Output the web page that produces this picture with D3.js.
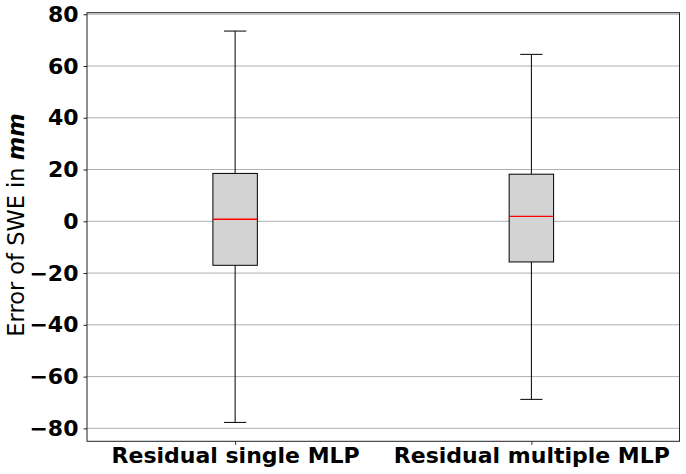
<!DOCTYPE html>
<html><head><meta charset="utf-8">
<script src="https://cdn.jsdelivr.net/npm/d3@7"></script>
<style>body{margin:0;background:#fff}svg{display:block}</style>
</head><body>
<svg id="c" width="686" height="474"></svg>
<script>
const categories = ["Residual single MLP", "Residual multiple MLP"];
const whiskerLow  = [-77.7, -68.8];
const q1          = [-17.0, -15.7];
const median      = [0.8, 1.9];
const q3          = [18.5, 18.2];
const whiskerHigh = [73.5, 64.5];
const yTicks = [-80, -60, -40, -20, 0, 20, 40, 60, 80];

const svg = d3.select("#c");
const L = 87, R = 679.5, T = 12.7, B = 441.3;
const y = d3.scaleLinear().domain([-85.0, 80.6]).range([B, T]);
const x = d3.scaleLinear().domain([0.5, 2.5]).range([L, R]);
const boxW = 0.15, capW = 0.075;

// grid
svg.append("g").selectAll("line").data(yTicks).join("line")
  .attr("x1", L).attr("x2", R)
  .attr("y1", d => y(d)).attr("y2", d => y(d))
  .attr("stroke", "#b0b0b0").attr("stroke-width", 1);

const data = categories.map((c, i) => ({c, i, lo: whiskerLow[i], q1: q1[i], med: median[i], q3: q3[i], hi: whiskerHigh[i]}));
const g = svg.append("g");
data.forEach(d => {
  const cx = x(d.i + 1);
  g.append("line").attr("x1", cx).attr("x2", cx).attr("y1", y(d.q3)).attr("y2", y(d.hi)).attr("stroke", "#000").attr("stroke-width", 1);
  g.append("line").attr("x1", cx).attr("x2", cx).attr("y1", y(d.q1)).attr("y2", y(d.lo)).attr("stroke", "#000").attr("stroke-width", 1);
  [d.hi, d.lo].forEach(v => {
    g.append("line").attr("x1", x(d.i + 1 - capW / 2)).attr("x2", x(d.i + 1 + capW / 2))
      .attr("y1", y(v)).attr("y2", y(v)).attr("stroke", "#000").attr("stroke-width", 1);
  });
  g.append("rect").attr("x", x(d.i + 1 - boxW / 2)).attr("width", x(d.i + 1 + boxW / 2) - x(d.i + 1 - boxW / 2))
    .attr("y", y(d.q3)).attr("height", y(d.q1) - y(d.q3))
    .attr("fill", "#d3d3d3").attr("stroke", "#000").attr("stroke-width", 1);
  g.append("line").attr("x1", x(d.i + 1 - boxW / 2)).attr("x2", x(d.i + 1 + boxW / 2))
    .attr("y1", y(d.med)).attr("y2", y(d.med)).attr("stroke", "red").attr("stroke-width", 1.3);
});

// frame
svg.append("rect").attr("x", L).attr("y", T).attr("width", R - L).attr("height", B - T)
  .attr("fill", "none").attr("stroke", "#222").attr("stroke-width", 1);

// y axis
const ya = svg.append("g").attr("transform", `translate(${L},0)`)
  .call(d3.axisLeft(y).tickValues(yTicks).tickSize(3.5).tickPadding(5).tickFormat(d => d < 0 ? "\u2212" + Math.abs(d) : d));
ya.select(".domain").remove();
ya.selectAll("text").attr("font-family", "DejaVu Sans").attr("font-weight", "bold").attr("font-size", "22px").attr("fill", "#000");
ya.selectAll("line").attr("stroke", "#222");

// x axis
const xa = svg.append("g").attr("transform", `translate(0,${B})`)
  .call(d3.axisBottom(x).tickValues([1, 2]).tickSize(3.5).tickPadding(3).tickFormat(d => categories[d - 1]));
xa.select(".domain").remove();
xa.selectAll("text").attr("font-family", "DejaVu Sans").attr("font-weight", "bold").attr("font-size", "22px").attr("fill", "#000");
xa.selectAll("line").attr("stroke", "#222");

// y label
const yl = svg.append("text").attr("transform", "translate(24,225) rotate(-90)")
  .attr("text-anchor", "middle").attr("font-family", "DejaVu Sans").attr("font-size", "22.5px").attr("fill", "#000");
yl.append("tspan").text("Error of SWE in ");
yl.append("tspan").attr("font-weight", "bold").attr("font-style", "italic").text("mm");
</script>
</body></html>
